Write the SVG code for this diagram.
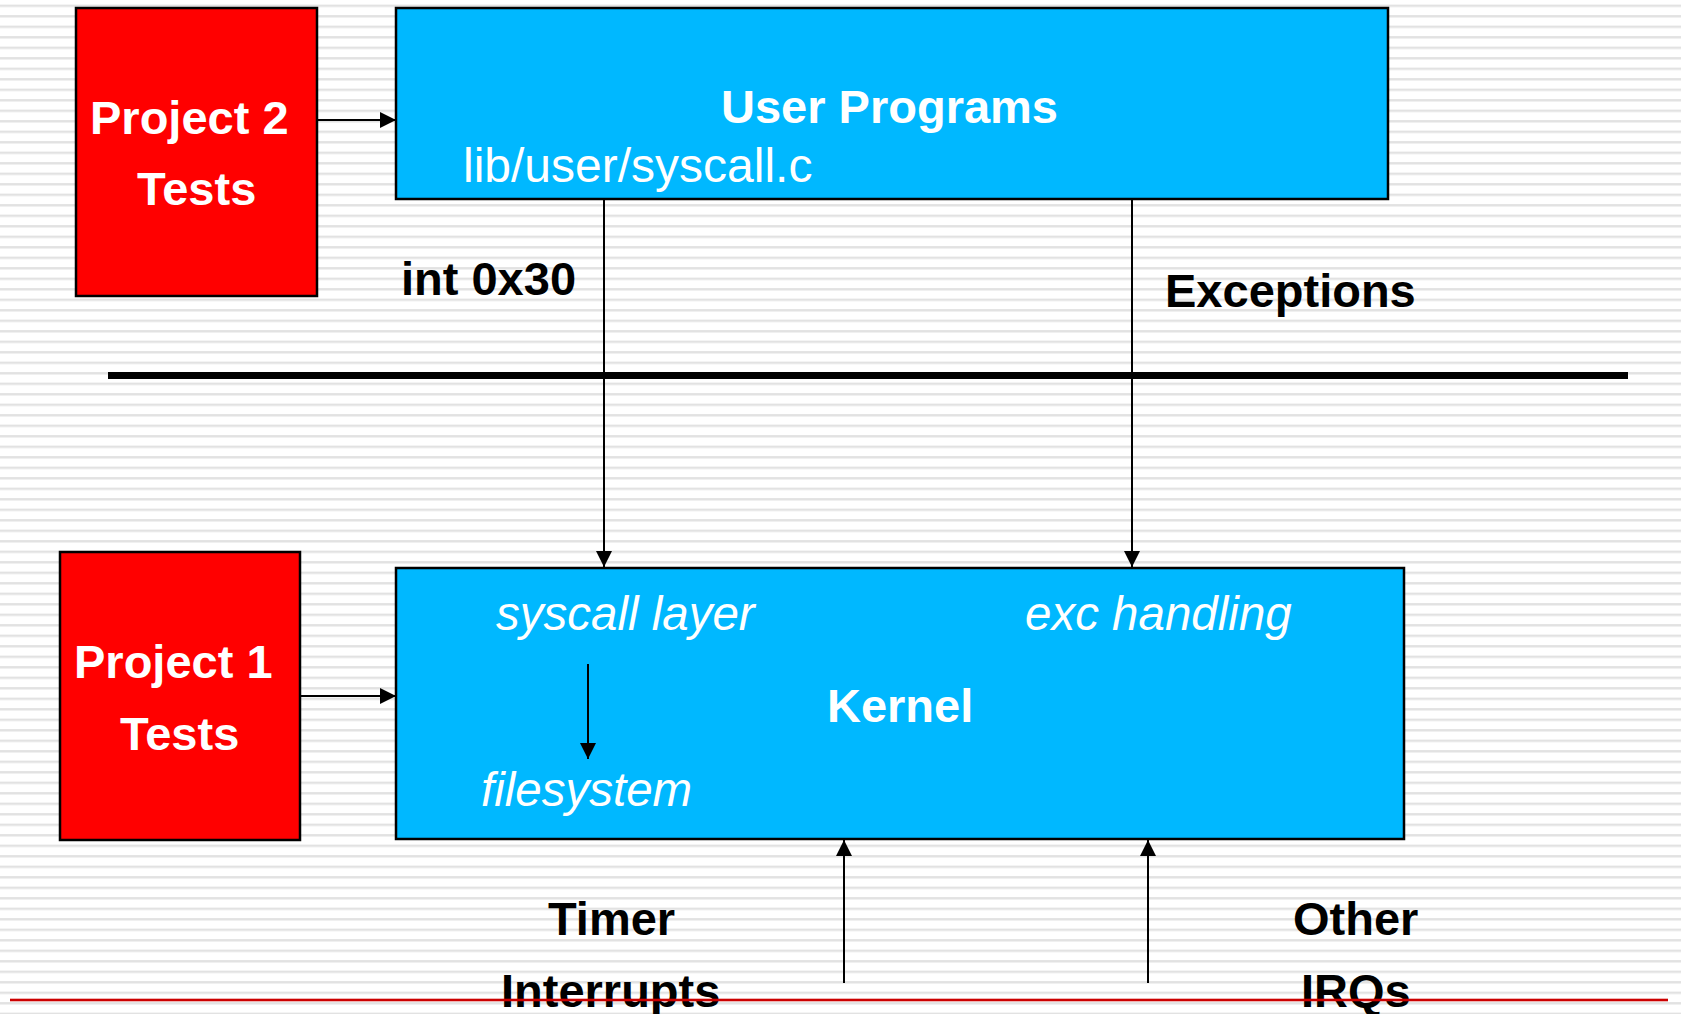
<svg xmlns="http://www.w3.org/2000/svg" width="1681" height="1014" viewBox="0 0 1681 1014">
<defs>
<pattern id="stripes" x="0" y="4.6" width="1681" height="10.5" patternUnits="userSpaceOnUse">
<rect x="0" y="0" width="1681" height="2.4" fill="#e2e2e2"/>
</pattern>
<marker id="arr" markerUnits="userSpaceOnUse" markerWidth="16" markerHeight="16" refX="16" refY="8" orient="auto">
<path d="M0,0 L16,8 L0,16 Z" fill="#000"/>
</marker>
</defs>
<style>
.box{stroke:#000;stroke-width:2.5}
.red{fill:#ff0000}
.blue{fill:#00b8ff}
.w{fill:#fff}
.k{fill:#000}
.b{font-family:"Liberation Sans",Arial,sans-serif;font-weight:bold;font-size:47px}
.r{font-family:"Liberation Sans",Arial,sans-serif;font-size:48px}
.i{font-family:"Liberation Sans",Arial,sans-serif;font-style:italic;font-size:47.5px}
.c{stroke:#000;stroke-width:2;fill:none}
</style>
<rect width="1681" height="1014" fill="#fff"/>
<rect width="1681" height="1014" fill="url(#stripes)"/>
<rect id="separator" x="108" y="372" width="1520" height="7" fill="#000"/>

<g id="project2">
<rect class="box red" x="76" y="8" width="241" height="288"/>
<text class="b w" x="90" y="134">Project 2</text>
<text class="b w" x="137" y="205">Tests</text>
</g>

<g id="userprograms">
<rect class="box blue" x="396" y="8" width="992" height="191"/>
<text class="b w" x="721" y="123">User Programs</text>
<text class="r w" x="463" y="182">lib/user/syscall.c</text>
</g>

<g id="project1">
<rect class="box red" x="60" y="552" width="240" height="288"/>
<text class="b w" x="74" y="678">Project 1</text>
<text class="b w" x="120" y="750">Tests</text>
</g>

<g id="kernel">
<rect class="box blue" x="396" y="568" width="1008" height="271"/>
<text class="i w" x="496" y="630">syscall layer</text>
<text class="i w" x="1025" y="630">exc handling</text>
<text class="b w" x="827" y="722">Kernel</text>
<text class="i w" x="481" y="806">filesystem</text>
</g>

<g id="labels">
<text class="b k" x="401" y="295">int 0x30</text>
<text class="b k" x="1165" y="307">Exceptions</text>
<text class="b k" x="548" y="935">Timer</text>
<text class="b k" x="501" y="1007">Interrupts</text>
<text class="b k" x="1293" y="935">Other</text>
<text class="b k" x="1301" y="1007">IRQs</text>
</g>

<g id="connectors">
<line class="c" x1="317" y1="120" x2="396" y2="120" marker-end="url(#arr)"/>
<line class="c" x1="300" y1="696" x2="396" y2="696" marker-end="url(#arr)"/>
<line class="c" x1="604" y1="199" x2="604" y2="567" marker-end="url(#arr)"/>
<line class="c" x1="1132" y1="199" x2="1132" y2="567" marker-end="url(#arr)"/>
<line class="c" x1="588" y1="664" x2="588" y2="759" stroke-width="2.5" marker-end="url(#arr)"/>
<line class="c" x1="844" y1="983" x2="844" y2="840" marker-end="url(#arr)"/>
<line class="c" x1="1148" y1="983" x2="1148" y2="840" marker-end="url(#arr)"/>
</g>

<rect id="footer-line" x="10" y="998.7" width="1658" height="2.6" fill="#cc0000"/>
</svg>
